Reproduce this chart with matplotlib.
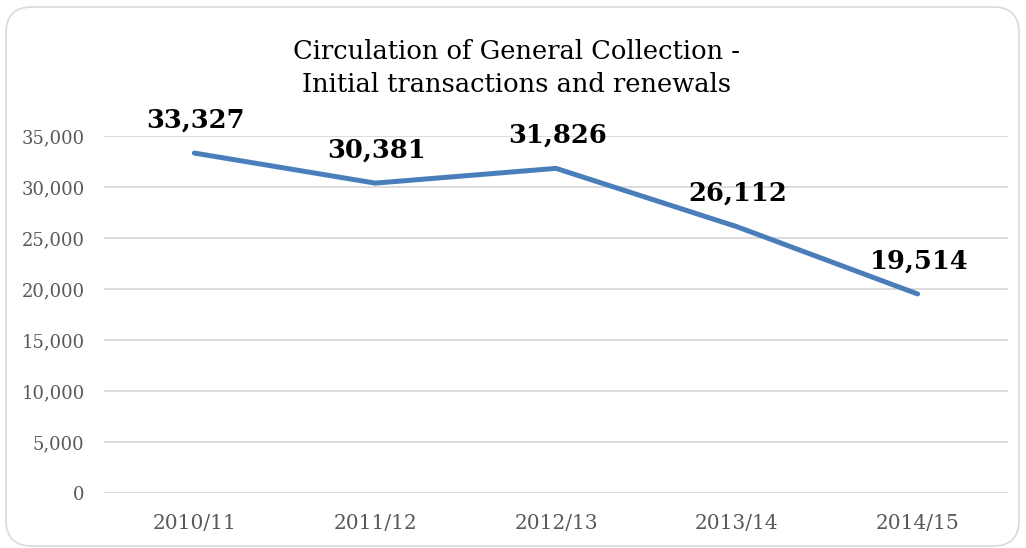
import matplotlib
matplotlib.use("Agg")
import matplotlib.pyplot as plt
from matplotlib.patches import FancyBboxPatch
from matplotlib.ticker import FuncFormatter

categories = ["2010/11", "2011/12", "2012/13", "2013/14", "2014/15"]
values = [33327, 30381, 31826, 26112, 19514]
yticks = [0, 5000, 10000, 15000, 20000, 25000, 30000, 35000]
title = "Circulation of General Collection -\nInitial transactions and renewals"

serif = ["DejaVu Serif"]

fig = plt.figure(figsize=(10.26, 5.48), dpi=100)
fig.patch.set_facecolor("white")

border = FancyBboxPatch((6 / 1026, 2 / 548), 1013 / 1026, 539 / 548,
                        boxstyle="round,pad=0,rounding_size=0.025",
                        transform=fig.transFigure, facecolor="none",
                        edgecolor="#D9D9D9", linewidth=1.2,
                        mutation_aspect=1026 / 548, zorder=-1)
fig.patches.append(border)

ax = fig.add_axes([104 / 1026, 1 - 493 / 548, 904 / 1026, (493 - 136) / 548])
ax.set_facecolor("none")
x = list(range(len(categories)))
ax.plot(x, values, color="#4A7EBB", linewidth=3.6, solid_capstyle="round", zorder=3)
for xi, v in zip(x, values):
    ax.annotate(f"{v:,}", (xi, v), xytext=(1, 15), textcoords="offset points",
                ha="center", va="bottom", fontsize=18.5, fontweight="bold",
                family=serif, color="black", zorder=4)

ax.set_xlim(-0.5, len(categories) - 0.5)
ax.set_ylim(0, 35000)
ax.set_yticks(yticks)
ax.yaxis.set_major_formatter(FuncFormatter(lambda v, p: f"{int(v):,}"))
ax.set_xticks(x)
ax.set_xticklabels(categories)
ax.grid(axis="y", color="#D9D9D9", linewidth=1.3)
ax.set_axisbelow(True)
for s in ax.spines.values():
    s.set_visible(False)
ax.tick_params(axis="y", length=0, colors="#595959", labelsize=13, pad=14)
ax.tick_params(axis="x", length=0, colors="#595959", labelsize=14.5, pad=15)
for lab in ax.get_xticklabels() + ax.get_yticklabels():
    lab.set_family(serif)

fig.text(0.503, 1 - 68 / 548, title, ha="center", va="center", fontsize=18.5,
         family=serif, color="black", linespacing=1.4)

fig.savefig("out.png", dpi=100)
